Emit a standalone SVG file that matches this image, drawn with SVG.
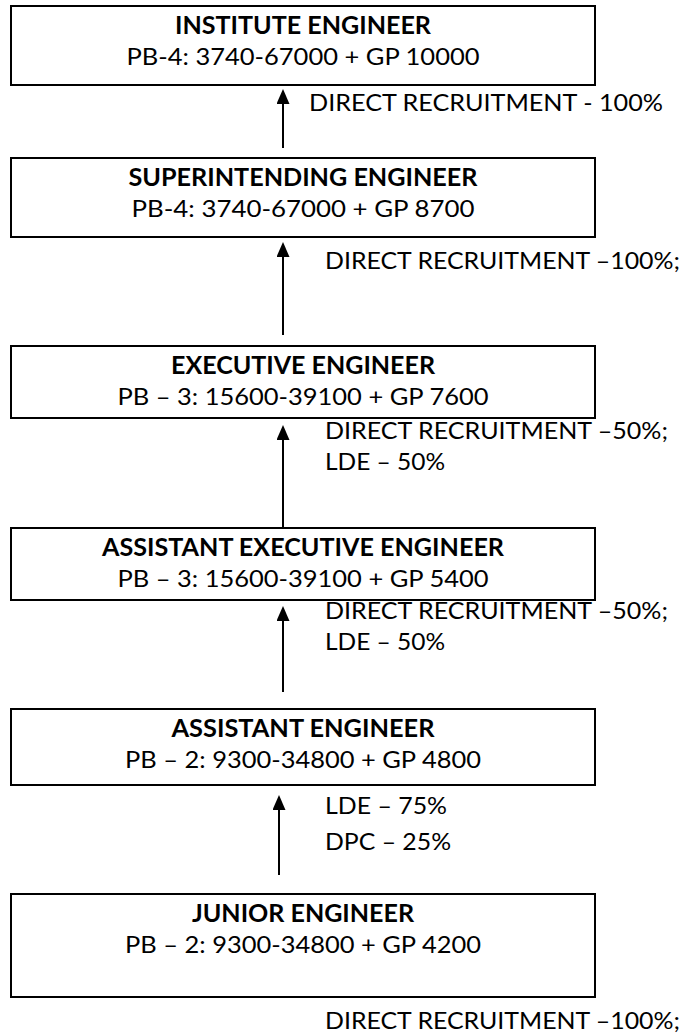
<svg xmlns="http://www.w3.org/2000/svg" width="689" height="1034" viewBox="0 0 689 1034">
<style>
.box{fill:#fff;stroke:#000;stroke-width:2}
.t{font-family:Lato,"Open Sans","DejaVu Sans",sans-serif;font-size:24px;fill:#000}
.b{font-weight:bold}
.c{text-anchor:middle}
.cl{stroke:#000;stroke-width:2;fill:none;marker-end:url(#ah)}
</style>
<defs>
<marker id="ah" markerUnits="userSpaceOnUse" markerWidth="15" markerHeight="13" refX="5" refY="6.5" orient="auto">
<path d="M0,0 L15,6.5 L0,13 Z" fill="#000"/>
</marker>
</defs>
<rect width="689" height="1034" fill="#fff"/>
<g id="connectors">
<line class="cl" x1="283" y1="148" x2="283" y2="99"/>
<line class="cl" x1="283" y1="335" x2="283" y2="252"/>
<line class="cl" x1="283" y1="527" x2="283" y2="435"/>
<line class="cl" x1="283" y1="692" x2="283" y2="616"/>
<line class="cl" x1="279" y1="875" x2="279" y2="805"/>
<g id="labels" class="t">
<text x="309" y="110.5" textLength="354" lengthAdjust="spacingAndGlyphs">DIRECT RECRUITMENT - 100%</text>
<text x="325" y="268.5" textLength="355" lengthAdjust="spacingAndGlyphs">DIRECT RECRUITMENT –100%;</text>
<text x="325" y="438.5" textLength="343" lengthAdjust="spacingAndGlyphs">DIRECT RECRUITMENT –50%;</text>
<text x="325" y="469.5" textLength="120" lengthAdjust="spacingAndGlyphs">LDE – 50%</text>
<text x="325" y="618.5" textLength="343" lengthAdjust="spacingAndGlyphs">DIRECT RECRUITMENT –50%;</text>
<text x="325" y="649.5" textLength="120" lengthAdjust="spacingAndGlyphs">LDE – 50%</text>
<text x="325" y="814" textLength="122" lengthAdjust="spacingAndGlyphs">LDE – 75%</text>
<text x="325" y="849.5" textLength="126" lengthAdjust="spacingAndGlyphs">DPC – 25%</text>
</g>
</g>
<g id="n1"><rect class="box" x="11" y="6" width="584" height="79"/>
<text class="t b c" x="303" y="33.5" textLength="256" lengthAdjust="spacingAndGlyphs">INSTITUTE ENGINEER</text>
<text class="t c" x="303" y="64.5" textLength="353" lengthAdjust="spacingAndGlyphs">PB-4: 3740-67000 + GP 10000</text></g>
<g id="n2"><rect class="box" x="11" y="158" width="584" height="79"/>
<text class="t b c" x="303" y="185.5" textLength="349" lengthAdjust="spacingAndGlyphs">SUPERINTENDING ENGINEER</text>
<text class="t c" x="303" y="216.5" textLength="343" lengthAdjust="spacingAndGlyphs">PB-4: 3740-67000 + GP 8700</text></g>
<g id="n3"><rect class="box" x="11" y="346" width="584" height="72"/>
<text class="t b c" x="303" y="373.5" textLength="264" lengthAdjust="spacingAndGlyphs">EXECUTIVE ENGINEER</text>
<text class="t c" x="303" y="404.5" textLength="371" lengthAdjust="spacingAndGlyphs">PB – 3: 15600-39100 + GP 7600</text></g>
<g id="n4"><rect class="box" x="11" y="528" width="584" height="72"/>
<text class="t b c" x="303" y="555.5" textLength="402" lengthAdjust="spacingAndGlyphs">ASSISTANT EXECUTIVE ENGINEER</text>
<text class="t c" x="303" y="586.5" textLength="371" lengthAdjust="spacingAndGlyphs">PB – 3: 15600-39100 + GP 5400</text></g>
<g id="n5"><rect class="box" x="11" y="709" width="584" height="76"/>
<text class="t b c" x="303" y="736.5" textLength="263" lengthAdjust="spacingAndGlyphs">ASSISTANT ENGINEER</text>
<text class="t c" x="303" y="767.5" textLength="356" lengthAdjust="spacingAndGlyphs">PB – 2: 9300-34800 + GP 4800</text></g>
<g id="n6"><rect class="box" x="11" y="894" width="584" height="103"/>
<text class="t b c" x="303" y="921.5" textLength="222" lengthAdjust="spacingAndGlyphs">JUNIOR ENGINEER</text>
<text class="t c" x="303" y="952.5" textLength="356" lengthAdjust="spacingAndGlyphs">PB – 2: 9300-34800 + GP 4200</text></g>
<text id="bottom-label" class="t" x="325" y="1029" textLength="355" lengthAdjust="spacingAndGlyphs">DIRECT RECRUITMENT –100%;</text>
</svg>
